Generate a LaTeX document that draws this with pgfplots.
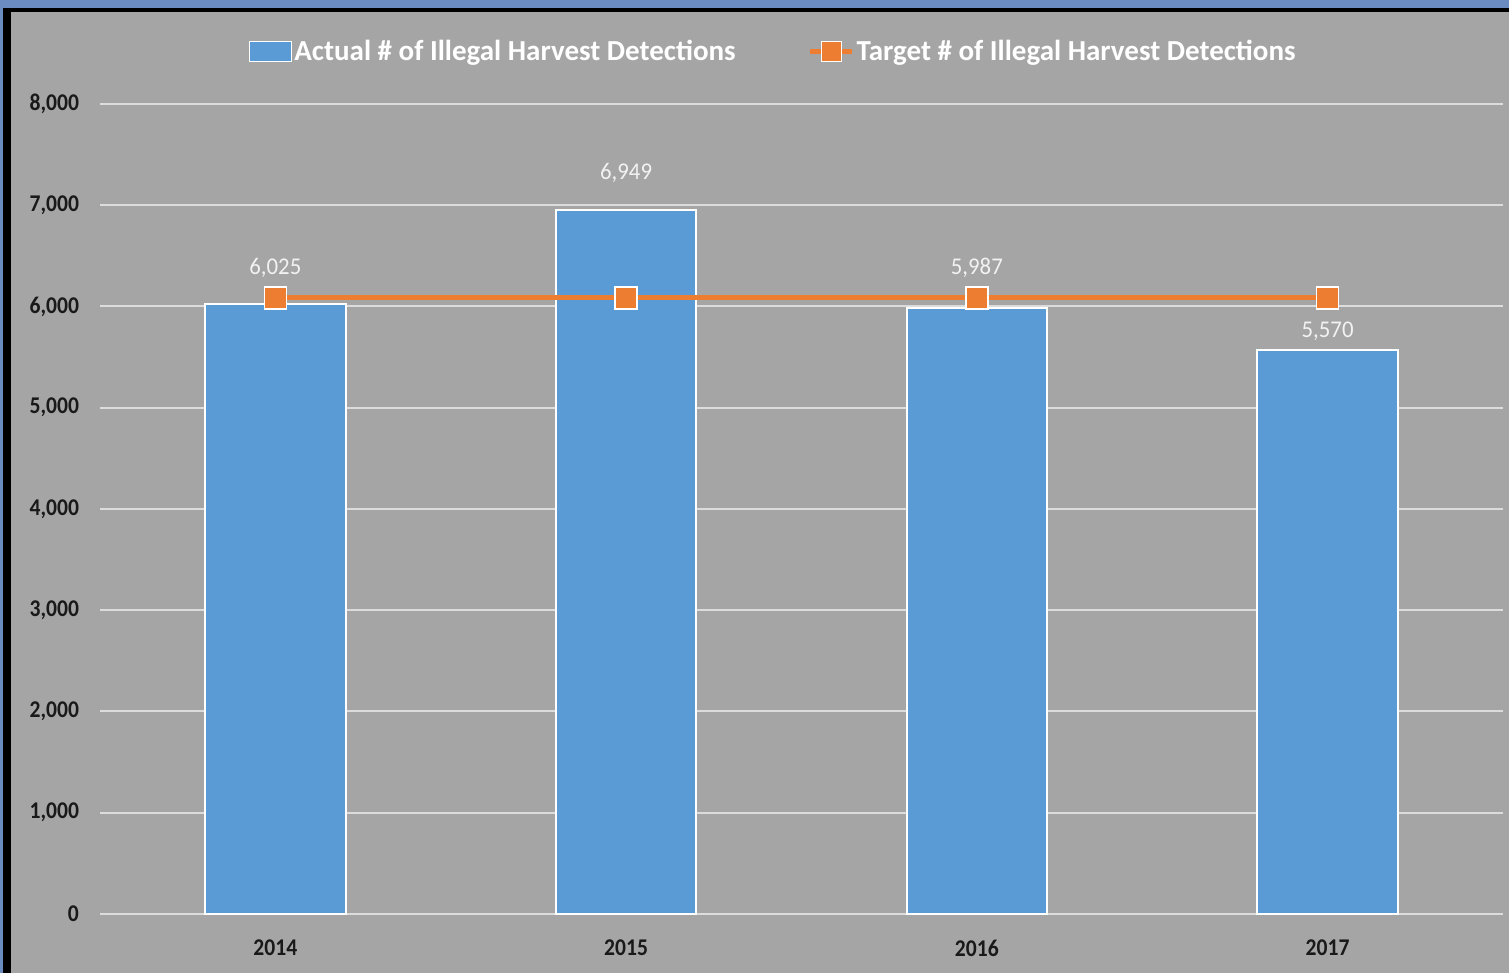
\documentclass[border=0pt]{standalone}
\usepackage{fontspec}
\setmainfont{Carlito}
\newfontfamily\nfont{Carlito}[FakeStretch=0.9]
\newfontfamily\mfont{Carlito}[FakeStretch=0.95]
\usepackage{pgfplots}
\pgfplotsset{compat=1.18}
\usepackage{pgfplotstable}
\definecolor{bgray}{HTML}{A5A5A5}
\definecolor{barblue}{HTML}{5B9BD5}
\definecolor{lorange}{HTML}{ED7D31}
\definecolor{gridc}{HTML}{DCDCDC}
\definecolor{frameblue}{HTML}{6A8CC0}
\definecolor{lbl}{HTML}{F2F2F2}

\pgfplotstableread{
x actual off
0 6025 18
1 6949 18.5
2 5987 20
3 5570 9.5
}\actualdata
\pgfplotstableread{
x target
0 6085
1 6085
2 6085
3 6085
}\targetdata

\begin{document}
\begin{tikzpicture}
\fill[frameblue] (0pt,0pt) rectangle (754.5pt,486.5pt);
\fill[black] (1.5pt,0pt) rectangle (754.5pt,482.5pt);
\fill[bgray] (5.5pt,0pt) rectangle (754.5pt,480.5pt);
\begin{axis}[
 at={(50pt,29.5pt)}, anchor=south west,
 scale only axis, width=701.5pt, height=405pt,
 xmin=-0.5, xmax=3.5, ymin=0, ymax=8000,
 axis line style={draw=none},
 tick style={draw=none},
 ymajorgrids, grid style={gridc, line width=1pt},
 ytick={0,1000,...,8000},
 xtick={0,1,2,3},
 xticklabels={2014,2015,2016,2017},
 yticklabel style={font=\fontsize{12}{14}\nfont\bfseries, text=black!90, xshift=-7pt},
 xticklabel style={font=\fontsize{12}{14}\nfont\bfseries, text=black!90, yshift=-9.5pt},
 /pgf/number format/.cd, 1000 sep={,}, assume math mode=true, /pgfplots/.cd,
 clip=false,
 legend columns=2,
 legend style={at={(rel axis cs:0.48,1.065)}, anchor=center, draw=none, fill=none,
   text=white, font=\fontsize{14.5}{16}\selectfont\bfseries,
   /tikz/every even column/.append style={column sep=35pt},
   nodes={inner xsep=1pt}},
]
\addplot[ybar, bar width=0.4, fill=barblue, draw=white, line width=1pt,
  nodes near coords,
  point meta=y,
  visualization depends on={\thisrow{off} \as \myoff},
  every node near coord/.append style={anchor=center, yshift=\myoff pt, text=lbl,
    font=\fontsize{12}{14}\mfont, /pgf/number format/1000 sep={,}, /pgf/number format/assume math mode=true},
  legend image code/.code={\draw[fill=barblue, draw=white, line width=0.6pt] (0pt,-5pt) rectangle (21pt,5pt);}
] table[x=x, y=actual] {\actualdata};
\addlegendentry{Actual \# of Illegal Harvest Detections}
\addplot[sharp plot, lorange, line width=2.5pt, mark=square*, mark size=5.5pt,
  mark options={fill=lorange, draw=white, line width=0.8pt},
  legend image code/.code={\draw[lorange, line width=2.5pt] (0pt,0pt) -- (21pt,0pt);
    \draw[fill=lorange, draw=white, line width=0.6pt] (5.5pt,-5pt) rectangle (15.5pt,5pt);}
] table[x=x, y=target] {\targetdata};
\addlegendentry{Target \# of Illegal Harvest Detections}
\end{axis}
\end{tikzpicture}
\end{document}
